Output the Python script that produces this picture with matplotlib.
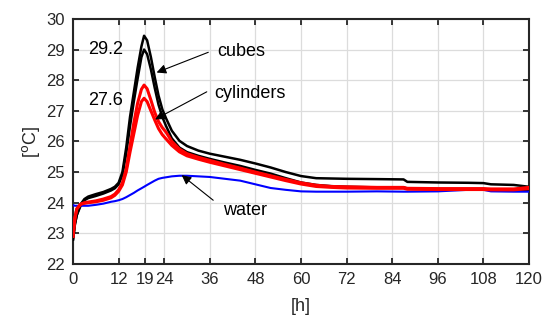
import matplotlib
matplotlib.use("Agg")
import matplotlib.pyplot as plt

plt.rcParams['font.family'] = ['Liberation Sans', 'DejaVu Sans']

hours = [0, 0.5, 1, 2, 3, 4, 6, 8, 10, 11, 12, 13, 14, 15, 16, 17, 18, 18.7,
         19.5, 20.5, 21.5, 22.5, 23.5, 24.5, 26, 28, 30, 33, 36, 40, 44, 48, 52, 56,
         60, 64, 68, 72, 80, 87, 88, 96, 104, 108, 110, 116, 120]

cubes_1 = [22.8, 23.3, 23.6, 23.95, 24.12, 24.2, 24.28, 24.35, 24.45, 24.52, 24.65,
           25.0, 25.8, 26.8, 27.6, 28.4, 29.1, 29.45,
           29.3, 28.75, 28.1, 27.5, 27.05, 26.75, 26.35, 26.02, 25.85, 25.7, 25.6, 25.5,
           25.4, 25.28, 25.15, 25.0, 24.87, 24.8, 24.79, 24.78, 24.77, 24.76, 24.68,
           24.66, 24.65, 24.64, 24.6, 24.58, 24.52]
cubes_2 = [22.8, 23.3, 23.6, 23.9, 24.08, 24.15, 24.22, 24.3, 24.4, 24.47, 24.6,
           24.9, 25.6, 26.5, 27.3, 28.05, 28.75, 29.0,
           28.85, 28.35, 27.75, 27.2, 26.8, 26.5, 26.1, 25.8, 25.65, 25.53, 25.43, 25.31,
           25.2, 25.07, 24.95, 24.8, 24.66, 24.58, 24.54, 24.52, 24.5, 24.5, 24.46,
           24.45, 24.45, 24.45, 24.43, 24.43, 24.42]
cylinders_1 = [22.9, 23.5, 23.8, 23.95, 24.0, 24.02, 24.06, 24.12, 24.2, 24.28, 24.42,
               24.65, 25.1, 25.85, 26.6, 27.25, 27.7, 27.84,
               27.72, 27.35, 26.95, 26.65, 26.45, 26.3, 26.0, 25.75, 25.6, 25.48, 25.38,
               25.25, 25.13, 25.0, 24.88, 24.76, 24.65, 24.57, 24.53, 24.52, 24.5, 24.5,
               24.47, 24.46, 24.46, 24.46, 24.45, 24.45, 24.5]
cylinders_2 = [22.9, 23.5, 23.8, 23.95, 23.98, 24.0, 24.03, 24.08, 24.16, 24.24, 24.37,
               24.58, 25.0, 25.65, 26.25, 26.85, 27.3, 27.41,
               27.3, 27.0, 26.7, 26.42, 26.22, 26.08, 25.87, 25.66, 25.53, 25.42, 25.32,
               25.2, 25.08, 24.96, 24.84, 24.72, 24.61, 24.53, 24.5, 24.48, 24.47, 24.47,
               24.44, 24.43, 24.43, 24.43, 24.42, 24.42, 24.46]
water = [23.92, 23.9, 23.9, 23.9, 23.9, 23.9, 23.93, 23.97, 24.03, 24.05, 24.08,
         24.12, 24.18, 24.25, 24.32, 24.4, 24.47, 24.52,
         24.58, 24.65, 24.72, 24.78, 24.81, 24.83, 24.86, 24.88, 24.88, 24.86, 24.84,
         24.78, 24.72, 24.6, 24.48, 24.42, 24.37, 24.36, 24.36, 24.36, 24.37, 24.36,
         24.36, 24.37, 24.42, 24.42, 24.37, 24.36, 24.36]

xticks = [0, 12, 19, 24, 36, 48, 60, 72, 84, 96, 108, 120]
yticks = [22, 23, 24, 25, 26, 27, 28, 29, 30]

fig = plt.figure(figsize=(5.47, 3.15), dpi=100)
ax = fig.add_axes([0.1335, 0.162, 0.8335, 0.778])

ax.plot(hours, cubes_1, color='black', lw=1.8, zorder=3)
ax.plot(hours, cubes_2, color='black', lw=1.8, zorder=3)
ax.plot(hours, water, color='#0000ff', lw=1.5, zorder=3)
ax.plot(hours, cylinders_1, color='#ff0000', lw=2.2, zorder=4)
ax.plot(hours, cylinders_2, color='#ff0000', lw=2.2, zorder=4)

ax.set_xlim(0, 120)
ax.set_ylim(22, 30)
ax.set_xticks(xticks)
ax.set_yticks(yticks)
ax.grid(True, color='#dcdcdc', lw=0.9, zorder=0)
ax.tick_params(direction='in', top=True, right=True, length=4, width=1.3,
               labelsize=12, colors='#262626', pad=6)
for s in ax.spines.values():
    s.set_linewidth(1.5)
    s.set_color('#262626')

ax.set_xlabel('[h]', fontsize=13, color='#262626', labelpad=8)
ax.set_ylabel('[$^{\\mathrm{o}}$C]', fontsize=13, color='#262626', labelpad=3)

ax.text(8.6, 29.0, '29.2', fontsize=13, ha='center', va='center', color='black')
ax.text(8.6, 27.35, '27.6', fontsize=13, ha='center', va='center', color='black')

arrow = dict(arrowstyle='-|>', color='black', lw=0.8, mutation_scale=14, shrinkA=0, shrinkB=0)
ax.annotate('', xy=(22.0, 28.25), xytext=(35.6, 28.91), arrowprops=arrow, zorder=6)
ax.annotate('', xy=(21.6, 26.72), xytext=(35.2, 27.62), arrowprops=arrow, zorder=6)
ax.annotate('', xy=(28.6, 24.9), xytext=(36.9, 24.08), arrowprops=arrow, zorder=6)

ax.text(37.9, 28.93, 'cubes', fontsize=13, ha='left', va='center', color='black')
ax.text(37.1, 27.55, 'cylinders', fontsize=13, ha='left', va='center', color='black')
ax.text(39.4, 23.74, 'water', fontsize=13, ha='left', va='center', color='black')

fig.savefig('out.png', dpi=100)
